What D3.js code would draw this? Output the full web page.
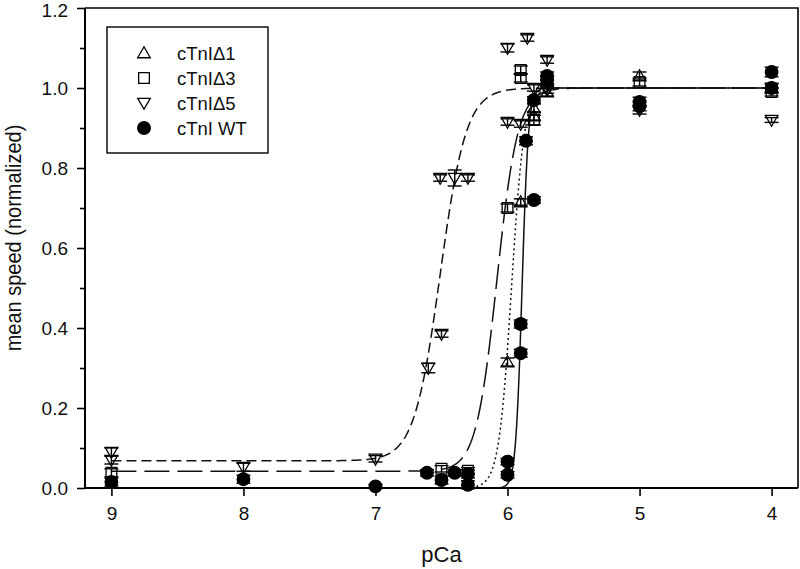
<!DOCTYPE html>
<html><head><meta charset="utf-8">
<script src="https://cdn.jsdelivr.net/npm/d3@7"></script>
<style>body{margin:0;background:#fff}svg{display:block;font-family:"Liberation Sans",Arial,sans-serif}</style>
</head><body><svg id="c" width="800" height="569"></svg>
<script>
// ---- data ----
const xTicks = [9, 8, 7, 6, 5, 4];
const yTicks = [0, 0.2, 0.4, 0.6, 0.8, 1.0, 1.2];
const yMinor = [0.1, 0.3, 0.5, 0.7, 0.9, 1.1];
const seriesNames = ["cTnI\u03941", "cTnI\u03943", "cTnI\u03945", "cTnI WT"];

const d1_pCa = [6.0, 5.9, 5.8, 5.8, 5.7, 5.0, 4.0];
const d1_val = [0.315, 0.715, 0.93, 0.95, 0.99, 1.03, 1.0];
const d1_err = [0.01, 0.008, 0.01, 0.01, 0.01, 0.01, 0.01];

const d3_pCa = [9, 6.5, 6.3, 6.0, 5.9, 5.9, 5.8, 5.7, 5.0, 4.0];
const d3_val = [0.038, 0.048, 0.043, 0.70, 1.045, 1.025, 0.92, 1.02, 1.015, 0.99];
const d3_err = [0.01, 0.008, 0.008, 0.01, 0.01, 0.01, 0.012, 0.01, 0.01, 0.01];

const d5_pCa = [9, 9, 8, 7, 6.6, 6.5, 6.51, 6.4, 6.3, 6.0, 6.0, 5.9, 5.85, 5.8, 5.7, 5.7, 5.0, 4.0];
const d5_val = [0.09, 0.07, 0.052, 0.073, 0.30, 0.385, 0.775, 0.775, 0.775, 1.10, 0.915, 0.91, 1.125, 1.0, 1.07, 0.995, 0.945, 0.92];
const d5_err = [0.01, 0.01, 0.01, 0.008, 0.012, 0.008, 0.008, 0.02, 0.008, 0.01, 0.008, 0.008, 0.008, 0.008, 0.008, 0.008, 0.01, 0.006];

const wt_pCa = [9, 8, 7, 6.61, 6.5, 6.4, 6.3, 6.3, 6.0, 6.0, 5.9, 5.9, 5.86, 5.8, 5.8, 5.7, 5.7, 5.0, 5.0, 4.0, 4.0];
const wt_val = [0.015, 0.022, 0.004, 0.038, 0.02, 0.038, 0.035, 0.008, 0.066, 0.033, 0.41, 0.337, 0.868, 0.72, 0.97, 1.03, 1.02, 0.965, 0.955, 1.04, 1.0];
const wt_err = [0.01, 0.01, 0.005, 0.008, 0.01, 0.008, 0.01, 0.01, 0.008, 0.008, 0.01, 0.01, 0.01, 0.008, 0.008, 0.01, 0.01, 0.012, 0.012, 0.012, 0.012];

// Hill fit parameters: [baseline, top, pCa50, nH]
const d1_fit = [0.0, 1.0, 5.97, 9];
const d3_fit = [0.042, 1.0, 6.08, 5.5];
const d5_fit = [0.068, 1.0, 6.51, 4.4];
const wt_fit = [0.0, 1.0, 5.89, 18];

// ---- drawing ----
const svg = d3.select("#c");
const L = 85, R = 798, T = 8, B = 488;
const x = d3.scaleLinear().domain([9.2, 3.8]).range([L, R]);
const y = d3.scaleLinear().domain([0, 1.2]).range([B, T]);

svg.append("defs").append("clipPath").attr("id", "clip")
  .append("rect").attr("x", L).attr("y", T).attr("width", R - L).attr("height", B - T);

function hill(p, f) { return f[0] + (f[1] - f[0]) / (1 + Math.pow(10, f[3] * (p - f[2]))); }
const curveX = d3.range(0, 501).map(i => 9 - i * 0.01);
const line = d3.line().x(d => x(d[0])).y(d => y(d[1]));
const fits = [
  { f: d1_fit, dash: "2,3" },
  { f: d3_fit, dash: "25,8" },
  { f: d5_fit, dash: "10,5" },
  { f: wt_fit, dash: null }
];
const gc = svg.append("g").attr("clip-path", "url(#clip)");
fits.forEach(s => {
  gc.append("path").attr("d", line(curveX.map(p => [p, hill(p, s.f)])))
    .attr("fill", "none").attr("stroke", "#111").attr("stroke-width", 1.5)
    .attr("stroke-dasharray", s.dash);
});

// markers
function markerPath(type, r) {
  if (type === 0) { const h = r * 1.0; return `M0,${-h}L${r},${h * 0.75}L${-r},${h * 0.75}Z`; }
  if (type === 1) { const s = r * 0.85; return `M${-s},${-s}H${s}V${s}H${-s}Z`; }
  if (type === 2) { const h = r * 1.0; return `M0,${h}L${r},${-h * 0.75}L${-r},${-h * 0.75}Z`; }
  return d3.symbol(d3.symbolCircle, Math.PI * r * r)();
}
const series = [
  { p: d1_pCa, v: d1_val, e: d1_err, t: 0 },
  { p: d3_pCa, v: d3_val, e: d3_err, t: 1 },
  { p: d5_pCa, v: d5_val, e: d5_err, t: 2 },
  { p: wt_pCa, v: wt_val, e: wt_err, t: 3 }
];
const R0 = 6.3;
series.forEach(s => {
  const g = svg.append("g");
  s.p.forEach((p, i) => {
    const cx = x(p), v = s.v[i], e = s.e[i];
    const eg = g.append("g").attr("stroke", "#000").attr("stroke-width", 1.4);
    eg.append("line").attr("x1", cx).attr("x2", cx).attr("y1", y(v + e)).attr("y2", y(v - e));
    [v + e, v - e].forEach(yy => eg.append("line").attr("x1", cx - 7).attr("x2", cx + 7).attr("y1", y(yy)).attr("y2", y(yy)));
    g.append("path").attr("d", markerPath(s.t, R0)).attr("transform", `translate(${cx},${y(v)})`)
      .attr("fill", s.t === 3 ? "#000" : "none").attr("stroke", "#000").attr("stroke-width", 1.3);
  });
});

// axes
const ax = svg.append("g").attr("transform", `translate(0,${B})`)
  .call(d3.axisBottom(x).tickValues(xTicks).tickSize(8).tickPadding(11).tickFormat(d3.format("d")));
const ay = svg.append("g").attr("transform", `translate(${L},0)`)
  .call(d3.axisLeft(y).tickValues(yTicks).tickSize(8).tickPadding(9).tickFormat(d3.format(".1f")));
const aym = svg.append("g").attr("transform", `translate(${L},0)`)
  .call(d3.axisLeft(y).tickValues(yMinor).tickSize(5).tickFormat(""));
aym.select(".domain").remove();
[ax, ay, aym].forEach(a => {
  a.selectAll(".domain").attr("stroke", "#000").attr("stroke-width", 2);
  a.selectAll(".tick line").attr("stroke", "#000").attr("stroke-width", 1.6);
  a.selectAll(".tick text").attr("font-size", 19).attr("fill", "#111").style("font-family", "'Liberation Sans', Arial, sans-serif");
});
ay.selectAll(".tick text").filter(d => d === 1.2).attr("dy", "0.45em");
ax.select(".domain").attr("d", `M${L},0H${R}`);
ay.select(".domain").attr("d", `M0,${B}V${T}`);
svg.append("path").attr("d", `M${L},${T}H${R}V${B}`).attr("fill", "none").attr("stroke", "#000").attr("stroke-width", 1.6);

// titles
svg.append("text").attr("x", (L + R) / 2).attr("y", 562).attr("text-anchor", "middle")
  .attr("font-size", 22).attr("fill", "#111").text("pCa");
svg.append("text").attr("transform", `translate(21,238) rotate(-90) scale(1,1.06)`).attr("text-anchor", "middle")
  .attr("font-size", 20).attr("fill", "#111").text("mean speed (normalized)");

// legend
const lg = svg.append("g");
lg.append("rect").attr("x", 107).attr("y", 27).attr("width", 161).attr("height", 126)
  .attr("fill", "#fff").attr("stroke", "#000").attr("stroke-width", 1.4);
seriesNames.forEach((n, i) => {
  const cy = 53 + i * 25;
  lg.append("path").attr("d", markerPath(i, R0)).attr("transform", `translate(144,${cy})`)
    .attr("fill", i === 3 ? "#000" : "none").attr("stroke", "#000").attr("stroke-width", 1.3);
  lg.append("text").attr("x", 177).attr("y", cy + 6.5).attr("font-size", 18.5).attr("fill", "#111").text(n);
});
</script></body></html>
